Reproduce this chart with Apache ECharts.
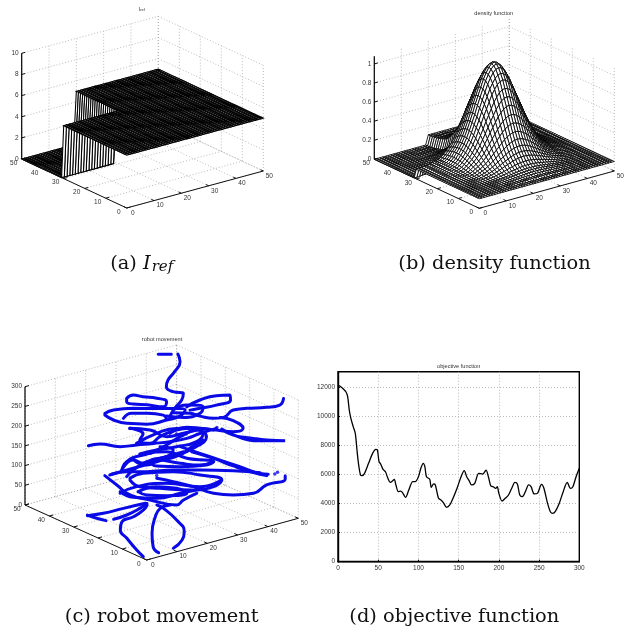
<!DOCTYPE html>
<html><head><meta charset="utf-8">
<style>html,body{margin:0;padding:0;background:#fff}#c{width:632px;height:630px;filter:blur(0.45px)}</style>
<script src="https://cdn.jsdelivr.net/npm/echarts@6/dist/echarts.min.js"></script>
</head><body><div id="c"></div>
<script>
// ---------- values ----------
const groundTicks = [0,10,20,30,40,50];
const iRefTicks = [0,2,4,6,8,10];
const densityTicks = [0,0.2,0.4,0.6,0.8,1];
const robotTicks = [0,50,100,150,200,250,300];

const iRefPlateau = 5;
const iRefLowA = [0,19];
const iRefLowB = [31,50];

const densityBase = 0.1;
const densityPeak = 0.98;
const densityAlongA = [0,0,0,.01,.01,.02,.03,.04,.05,.07,.10,.14,.18,.23,.29,.36,.44,.52,.61,.69,.77,.85,.91,.96,.99,1,.99,.96,.91,.85,.77,.69,.61,.52,.44,.36,.29,.23,.18,.14,.10,.07,.05,.04,.03,.02,.01,.01,0,0,0];
const densityAlongB = [0,0,0,.01,.01,.02,.03,.04,.05,.07,.10,.14,.18,.23,.29,.36,.44,.52,.61,.69,.77,.85,.91,.96,.99,1,.99,.96,.91,.85,.77,.69,.61,.52,.44,.36,.29,.23,.18,.14,.10,.07,.05,.04,.03,.02,.01,.01,0,0,0];

// robot paths: [position along the ground diagonal, step]
const robotDepths = [22,22,0,0,0,0,0,0,0,0,0,0,0,0,0,0,0,0,0,0,0,-10,-10,-10,-26,-26,-26,0,0,0,0,0,0,0];
const robotPath01 = [[24.4,300],[26.8,302]];
const robotPath02 = [[28,303],[28.4,284],[27.4,258],[26.2,236],[25.9,219],[27.1,207],[29,204],[28.7,187],[27.4,165],[26.5,143]];
const robotPath03 = [[18.6,283],[19.8,292],[21.6,289],[24.1,287],[25.9,279.5],[25.3,266],[22.3,269],[19.8,269.4],[18.6,274.6],[18.6,283]];
const robotPath04 = [[14.6,242],[16.2,252],[19.8,258.4],[24.1,261],[27.1,263],[29.3,260.6],[28.4,245],[25.9,233],[22.3,220],[18.6,219.6],[16.2,226.5],[14.6,238]];
const robotPath05 = [[18,232],[19.5,245.6],[22.3,247.5],[25.3,245],[25.9,234.6]];
const robotPath06 = [[29.6,269],[32,287.8],[35,300.8],[37.5,304],[37.6,291.6],[35,277],[32,266.7],[30.2,261]];
const robotPath07 = [[47.3,302],[46.6,285],[44.2,277.5],[40.5,272.4],[38.1,266.6],[36.3,246.7],[34.5,243],[32,247],[30.2,252.8],[27.1,252.4]];
const robotPath08 = [[35.7,246],[38.1,239.6],[39.9,221.4],[38.1,211.7],[35,213.8],[32,216],[29.6,217],[26.5,199.6]];
const robotPath09 = [[36,217],[38.1,203],[41.8,197],[44.2,194.7],[47.6,195],[41.8,191.4],[39.3,198],[36.9,211]];
const robotPath10 = [[11.6,158],[13.7,164],[17.4,159.7],[20.4,166],[23.5,172],[26.5,178.5],[29.6,189],[32,203],[35,218]];
const robotPath11 = [[19.2,207.4],[21.6,194.6],[21,179],[22.9,171.8],[24.7,190],[27.7,209],[30.2,215],[32.6,203.7],[31.4,182],[27.7,166.6],[24.1,155.7],[21,143.5]];
const robotPath12 = [[28.4,167],[32,152.6],[35.7,138],[39.3,123.8],[43,109],[44.5,108]];
const robotPath13 = [[30.5,155.8],[34.5,141.6],[38.1,124.7],[41.8,110.3],[44.2,104.3]];
const robotPath14 = [[47.6,106.6],[47.6,97.3],[44.2,80.6],[41.8,57.9],[38.1,51],[34.5,52.9],[30.8,67.3],[27.1,77.5],[24.1,83.9]];
const robotPath15 = [[15.9,89.3],[18.6,97],[22.3,99.6],[27.1,107],[32,110.3],[38.1,112.8],[43,111]];
const robotPath16 = [[17.7,96.5],[18.6,122.5],[21.6,141.4],[25.9,152.7],[29.6,138.3],[34.5,133],[33.2,123.8],[28.4,116.4],[24.1,115],[22.9,125.4],[25.9,140],[29,154.8]];
const robotPath17 = [[19.2,80.6],[21.6,94.9],[27.1,102.8],[32,97.7],[36,87.7],[34.5,69.8],[30.2,58.4],[24.7,59],[21,60.7],[19.2,76.4]];
const robotPath18 = [[20.7,47.8],[24.1,62.8],[27.7,61],[29.6,49.6],[25.9,41.2],[22.3,40.4],[20.7,47.8]];
const robotPath19 = [[14.6,84.3],[16.8,62],[19.2,38.4],[22.9,28.2],[27.7,18.7],[29,32.3],[31.4,50.8]];
const robotPath20 = [[17.4,45.6],[19.8,32.8],[24.1,33.2],[28.4,48.8],[32,61.3]];
const robotPath21 = [[17.7,100.7],[19.8,127.4],[22.3,116.4],[24.7,135],[27.7,145.5],[30.8,164.5],[33.2,195.6],[31.4,211.3],[28.4,192.4],[25.9,169.6],[22.9,146.5]];
const robotPath22 = [[11.4,25.5],[14.3,33.4],[18,48.5],[22,63.9]];
const robotPath23 = [[11.4,27],[13.1,19.9],[14.8,15.1]];
const robotPath24 = [[16.2,19.5],[18.6,32],[21,50.5],[22.3,64]];
const robotPath25 = [[21.6,0],[20.4,16],[18.6,44.6],[17.4,65],[17.7,86],[19.8,100],[21.6,118],[22.3,131.5]];
const robotPath26 = [[24.4,12],[23.4,26.7],[23.2,60],[23.8,103],[24.7,124.7],[26.5,134.4]];
const robotPath27 = [[27.1,25],[28.7,47],[29.1,68.6],[27.7,97],[25.3,125],[24.1,132.8]];
const robotPath28 = [[15.5,86.5],[19.8,106.4],[24.1,126],[28.4,146],[30.5,168.5],[32.6,186.8]];
const robotPath29 = [[20.4,170],[24.1,198],[27.7,213],[31.4,215.6],[34.5,213.3]];
const robotPath30 = [[19.8,131.7],[21,119.8],[24.1,130.3],[28.4,124.8],[32,123],[34.5,133.2]];
const robotPath31 = [[17.4,41.4],[20.4,60.3],[25.9,72.4],[32,68],[36,87.7]];
const robotPath32 = [[24.7,164.6],[27.1,157.7],[25.9,140],[22.3,125],[19.8,102],[18.6,84.4]];
const robotPath33 = [[27.1,259],[29.6,273.5],[32.6,271],[32,254],[29,241.6],[25.9,243]];
const robotPath34 = [[19.2,207.4],[22.9,205.5],[25.9,190.7],[29,201.3],[31.4,211.2]];
const robotDots = [[45.7,109.5],[46.2,114],[19.2,207],[24.1,91],[29.5,200],[27.7,199],[35.1,220]];
const robotPaths = [robotPath01,robotPath02,robotPath03,robotPath04,robotPath05,robotPath06,robotPath07,robotPath08,robotPath09,robotPath10,robotPath11,robotPath12,robotPath13,robotPath14,robotPath15,robotPath16,robotPath17,robotPath18,robotPath19,robotPath20,robotPath21,robotPath22,robotPath23,robotPath24,robotPath25,robotPath26,robotPath27,robotPath28,robotPath29,robotPath30,robotPath31,robotPath32,robotPath33,robotPath34];

const objectiveX = [0,5,10,12,14,16,19,21.5,24,26,28,30,33,38,43,47,49,51,53,56,59,62,65,68,70,72,75,78,80,84,88,93,96,100,103,106,108,110,114,116,119,121,125,128,131,135,139,143,148,153,157,160,163,166,170,175,180,184,187,190,193,196,198,200,204,208,212,216,220,223,226,229,233,237,240,244,248,253,256,260,264,267,270,275,280,285,289,292,296,300];
const objectiveY = [12180,12000,11700,11380,10460,9880,9300,8850,7470,6550,5980,5930,6090,6780,7470,7750,7700,6900,6740,6370,6200,5750,5470,5580,5680,5290,4830,4870,4780,4440,4940,5520,5520,5860,6440,6780,6550,5860,5680,5130,5360,5290,4370,4250,4070,3750,3910,4370,5060,5860,6280,5860,5590,5290,5400,6090,6040,6320,5860,5220,5170,5060,5170,4710,4180,4370,4600,5060,5470,5360,4600,4480,4830,5290,5170,4670,4710,5330,5060,4140,3450,3330,3450,4020,4830,5470,5060,5170,5860,6440];

// ---------- panel layout ----------
const views = [
  {rect:[10,10,265,215], origin:[126.7,208], aVec:[136.6,37], bVec:[105,49], zPx:105.7, zMax:10, zTicks:iRefTicks},
  {rect:[360,10,265,215], origin:[479.3,208.3], aVec:[135,37.3], bVec:[105,49], zPx:103, zMax:1.08, zTicks:densityTicks},
  {rect:[10,345,295,230], origin:[146.7,560], aVec:[151.6,41.7], bVec:[121.7,55], zPx:118.3, zMax:300, zTicks:robotTicks}
];
function plane(v,a,b,z){
  const x=v.origin[0]+a/50*v.aVec[0]-b/50*v.bVec[0]-v.rect[0];
  const y=v.rect[1]+v.rect[3]-v.origin[1]+a/50*v.aVec[1]+b/50*v.bVec[1]+z/v.zMax*v.zPx;
  return [x,y];
}
const series=[];
function lineSeries(g,segs,style,z){
  series.push({type:'custom',coordinateSystem:'cartesian2d',xAxisIndex:g,yAxisIndex:g,silent:true,z:z||2,clip:false,
    data:segs.map((_,i)=>[i,i]),
    renderItem:(p,api)=>{const s=segs[p.dataIndex];const A=api.coord(s[0]),B=api.coord(s[1]);
      return {type:'line',shape:{x1:A[0],y1:A[1],x2:B[0],y2:B[1]},style:Object.assign({fill:null},style)};}});
}
function textSeries(g,items,fs){
  series.push({type:'custom',coordinateSystem:'cartesian2d',xAxisIndex:g,yAxisIndex:g,silent:true,z:5,clip:false,
    data:items.map((_,i)=>[i,i]),
    renderItem:(p,api)=>{const t=items[p.dataIndex];const A=api.coord(t.at);
      return {type:'text',style:{text:t.text,x:A[0]+t.dx,y:A[1]+t.dy,fill:'#333',fontSize:fs,fontFamily:'Liberation Sans',align:t.align||'center',verticalAlign:'middle'}};}});
}
function frame(g,v,fs){
  const grid=[],axis=[],ticks=[],labels=[];
  const top=v.zMax;
  groundTicks.forEach(t=>{
    grid.push([plane(v,t,0,0),plane(v,t,50,0)],[plane(v,0,t,0),plane(v,50,t,0)]);
    grid.push([plane(v,t,50,0),plane(v,t,50,top)],[plane(v,50,t,0),plane(v,50,t,top)]);
    ticks.push([plane(v,t,0,0),plane(v,t,1.3,0)],[plane(v,0,t,0),plane(v,1.3,t,0)]);
    labels.push({at:plane(v,t,0,0),text:String(t),dx:6,dy:5});
    labels.push({at:plane(v,0,t,0),text:String(t),dx:-8,dy:4});
  });
  v.zTicks.forEach(t=>{
    grid.push([plane(v,0,50,t),plane(v,50,50,t)],[plane(v,50,50,t),plane(v,50,0,t)]);
    ticks.push([plane(v,0,50,t),plane(v,1.3,50,t)]);
    labels.push({at:plane(v,0,50,t),text:String(t),dx:-3,dy:0,align:'right'});
  });
  axis.push([plane(v,0,0,0),plane(v,50,0,0)],[plane(v,0,0,0),plane(v,0,50,0)]);
  lineSeries(g,grid,{stroke:'#aaa',lineWidth:0.8,lineDash:[1,2]},1);
  lineSeries(g,axis.concat(ticks),{stroke:'#111',lineWidth:1},4);
  lineSeries(g,[[plane(v,0,50,0),plane(v,0,50,top)]],{stroke:'#000',lineWidth:1.2},4);
  textSeries(g,labels,fs);
}
function mesh(g,v,height,strokeWidth){
  const cells=[];
  for(let i=49;i>=0;i--)for(let j=49;j>=0;j--)cells.push([i,j]);
  series.push({type:'custom',coordinateSystem:'cartesian2d',xAxisIndex:g,yAxisIndex:g,silent:true,z:3,clip:false,progressive:0,
    data:cells,
    renderItem:(p,api)=>{const c=cells[p.dataIndex],i=c[0],j=c[1];
      const pts=[[i,j],[i+1,j],[i+1,j+1],[i,j+1]].map(q=>api.coord(plane(v,q[0],q[1],height(q[0],q[1]))));
      return {type:'polygon',shape:{points:pts},style:{fill:'#fff',stroke:'#000',lineWidth:strokeWidth}};}});
}
const inLow=(i,j)=>i>=iRefLowA[0]&&i<=iRefLowA[1]&&j>=iRefLowB[0]&&j<=iRefLowB[1];
frame(0,views[0],6.5);
mesh(0,views[0],(i,j)=>inLow(i,j)?0:iRefPlateau,1.05);
frame(1,views[1],6.5);
mesh(1,views[1],(i,j)=>(inLow(i,j)?0:densityBase)+densityPeak*densityAlongA[i]*densityAlongB[j],0.85);
frame(2,views[2],6.5);
robotPaths.forEach((path,k)=>{
  const d=robotDepths[k]||0, v=views[2];
  series.push({type:'line',xAxisIndex:2,yAxisIndex:2,silent:true,clip:false,z:4,smooth:0.5,symbol:'none',
    lineStyle:{color:'#0a0ae6',width:3,cap:'round'},
    data:path.map(p=>plane(v,p[0]+0.8*d,50-p[0]+d,p[1]))});
});
series.push({type:'scatter',xAxisIndex:2,yAxisIndex:2,silent:true,clip:false,z:4,symbolSize:3.5,itemStyle:{color:'#0a0ae6'},
  data:robotDots.map(p=>plane(views[2],p[0],50-p[0],p[1]))});
series.push({type:'line',xAxisIndex:3,yAxisIndex:3,silent:true,symbol:'none',clip:false,z:4,smooth:0.3,
  lineStyle:{color:'#000',width:1.3},data:objectiveX.map((x,i)=>[x,objectiveY[i]])});

const xAxes=views.map((v,i)=>({gridIndex:i,type:'value',min:0,max:v.rect[2],show:false}));
const yAxes=views.map((v,i)=>({gridIndex:i,type:'value',min:0,max:v.rect[3],show:false}));
const dotted={show:true,showMinLine:false,showMaxLine:false,lineStyle:{color:'#aaa',width:0.8,type:[1,2]}};
const lab={fontSize:6.5,color:'#333',fontFamily:'Liberation Sans'};
xAxes.push({gridIndex:3,type:'value',min:0,max:300,interval:50,axisLine:{lineStyle:{color:'#000',width:1.4}},
  axisTick:{inside:true,length:2,lineStyle:{color:'#000'}},splitLine:dotted,axisLabel:Object.assign({margin:3},lab)});
yAxes.push({gridIndex:3,type:'value',min:0,max:13100,interval:2000,axisLine:{show:true,lineStyle:{color:'#000',width:1.4}},
  axisTick:{show:true,inside:true,length:2,lineStyle:{color:'#000'}},splitLine:dotted,
  axisLabel:Object.assign({margin:3,showMaxLabel:false,formatter:v=>String(v)},lab)});

const grids=views.map(v=>({left:v.rect[0],top:v.rect[1],width:v.rect[2],height:v.rect[3]}));
grids.push({left:338,top:371.7,width:241.3,height:190,show:true,borderColor:'#000',borderWidth:1.4,backgroundColor:'transparent'});

const small=(text,x,y)=>({text,left:x,top:y,textAlign:'center',textVerticalAlign:'middle',padding:0,textStyle:{fontSize:5.6,fontWeight:'normal',color:'#333',fontFamily:'Liberation Sans'}});
const capStyle={fontSize:19.4,fontWeight:'normal',color:'#111',fontFamily:'DejaVu Serif'};
const cap=(text,x,y,rich)=>({text,left:x,top:y,textAlign:'center',textVerticalAlign:'middle',padding:0,textStyle:Object.assign({},capStyle,rich?{rich}:{})});
const titles=[
  small('{n|I}{s|ref}',141.7,9),small('density function',493.7,13),small('robot movement',162,339),small('objective function',458.7,366),
  cap('(b) density function',494.5,264),cap('(c) robot movement',161.7,617),cap('(d) objective function',454.3,617),
  cap('{r|(a) }{i|I}{s|ref}',141.7,264,{r:{fontSize:19.4,fontFamily:'DejaVu Serif',color:'#111'},i:{fontSize:19.4,fontStyle:'italic',fontFamily:'DejaVu Serif',color:'#111'},s:{fontSize:15,fontStyle:'italic',fontFamily:'DejaVu Serif',color:'#111',padding:[7,0,0,1]}})
];
titles[0].textStyle.rich={n:{fontSize:5.6,color:'#333'},s:{fontSize:4,color:'#333',padding:[2,0,0,0]}};

const chart=echarts.init(document.getElementById('c'),null,{renderer:'canvas',width:632,height:630});
chart.setOption({animation:false,backgroundColor:'#fff',title:titles,grid:grids,xAxis:xAxes,yAxis:yAxes,series});
</script></body></html>
